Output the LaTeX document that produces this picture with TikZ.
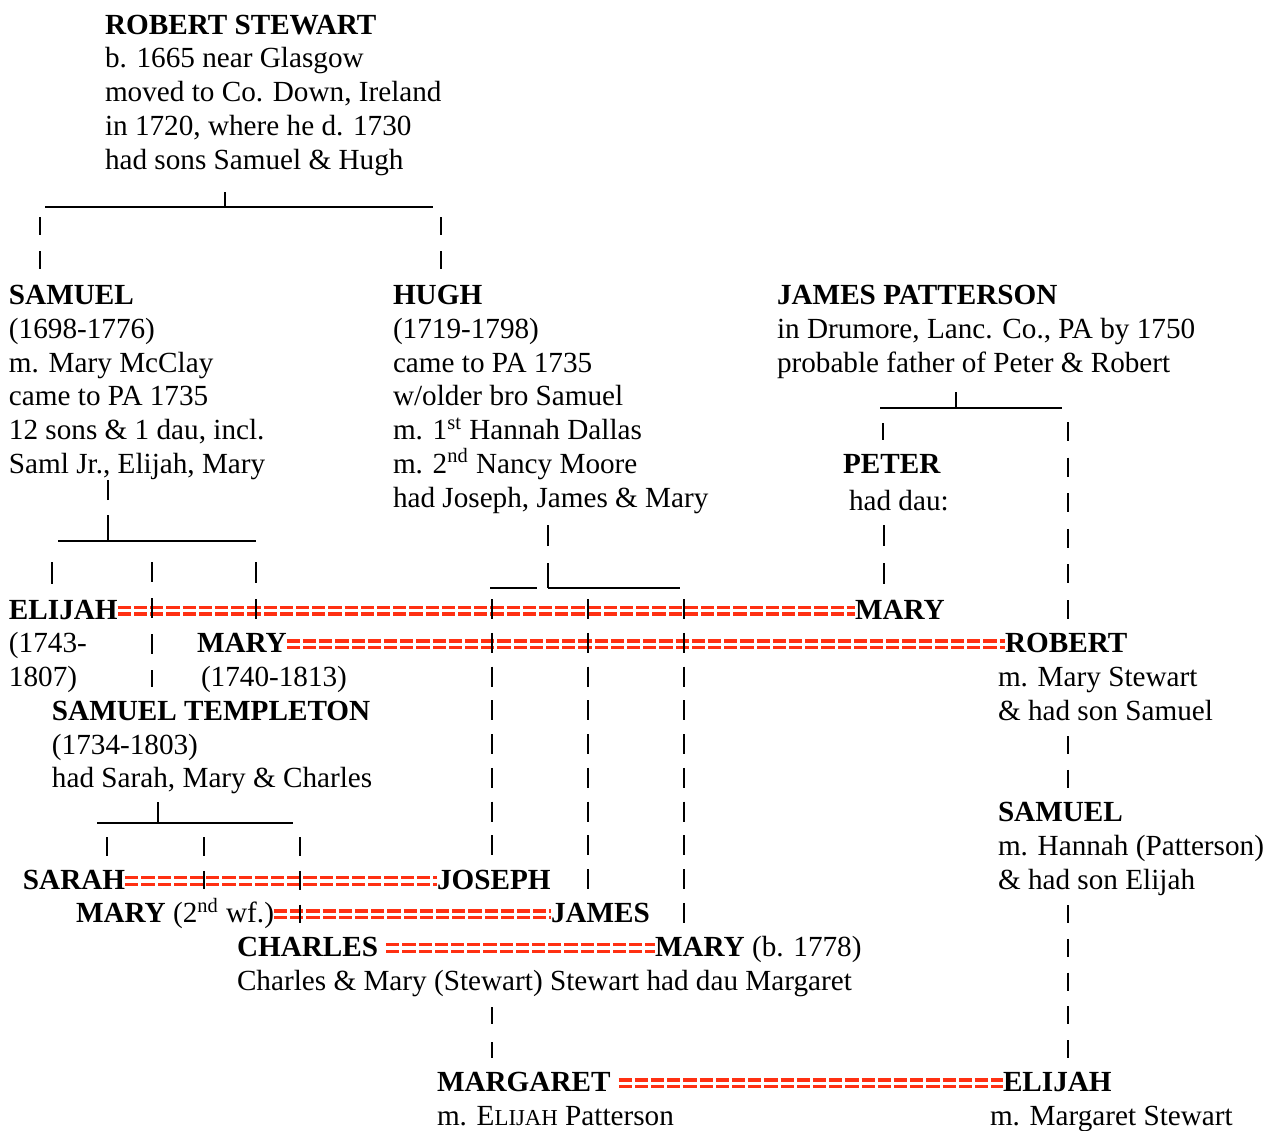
\documentclass[tikz,border=0pt]{standalone}
\usepackage{fontspec}
\setmainfont{Liberation Serif}
\usetikzlibrary{positioning}
\definecolor{wedred}{RGB}{255,48,18}
\newcommand\fakesc[2]{#1{\fontsize{11.4pt}{16.9pt}\selectfont #2}}
\tikzset{%
  every node/.style={inner sep=0pt,outer sep=0pt,
    font=\fontsize{14.6pt}{16.9pt}\selectfont},%
  blk/.style={anchor=north west,yshift=11.83pt,align=left},%
  nm/.style={anchor=base west,font=\fontsize{14.6pt}{16.9pt}\selectfont\bfseries},%
  txt/.style={anchor=base west},%
  pipe/.style={line width=1pt},%
  bold pipe/.style={line width=1.4pt},%
  rule/.style={line width=0.7pt},%
  wed/.style={draw=wedred,double=white,line width=1.6pt,double distance=1.8pt,
    dash pattern=on 6.6pt off 1.5pt}%
}

\begin{document}
\begin{tikzpicture}[x=0.5pt,y=-0.5pt]
\fill[white] (0,0) rectangle (1266,1131);
\useasboundingbox (0,0) rectangle (1266,1131);

% first generation
\node[blk] (rstewart) at (105,34) {\strut\textbf{ROBERT STEWART}\\b. 1665 near Glasgow\\
  moved to Co. Down, Ireland\\in 1720, where he d. 1730\\had sons Samuel \& Hugh};

% second generation
\node[blk] (samuel) at (9,304.4) {\strut\textbf{SAMUEL}\\(1698-1776)\\m. Mary McClay\\
  came to PA 1735\\12 sons \& 1 dau, incl.\\Saml Jr., Elijah, Mary};
\node[blk] (hugh) at (393,304.4) {\strut\textbf{HUGH}\\(1719-1798)\\came to PA 1735\\
  w/older bro Samuel\\m. 1\textsuperscript{st} Hannah Dallas\\
  m. 2\textsuperscript{nd} Nancy Moore\\had Joseph, James \& Mary};
\node[blk] (jpatterson) at (777,304.4) {\strut\textbf{JAMES PATTERSON}\\
  in Drumore, Lanc. Co., PA by 1750\\probable father of Peter \& Robert};
\node[nm] (peter) at (843,473.4) {PETER};
\node[txt] (peterdau) at (849,510) {had dau:};

% third generation
\node[nm] (elijah) at (9,619) {ELIJAH};
\node[blk] (elijahinfo) at (9,652.8) {\strut(1743-\\1807)};
\node[nm] (mary1) at (197,652.8) {MARY};
\node[txt] (mary1info) at (201,686.5) {(1740-1813)};
\node[nm] (mary2) at (855,619) {MARY};
\node[nm] (robert) at (1005,652.8) {ROBERT};
\node[blk] (robertinfo) at (998,686.5) {\strut m. Mary Stewart\\\& had son Samuel};
\node[blk] (templeton) at (52,720.3) {\strut\textbf{SAMUEL TEMPLETON}\\(1734-1803)\\
  had Sarah, Mary \& Charles};
\node[blk] (samuel2) at (998,821.6) {\strut\textbf{SAMUEL}\\m. Hannah (Patterson)\\
  \& had son Elijah};

% fourth generation
\node[nm] (sarah) at (23,889.2) {SARAH};
\node[nm] (joseph) at (437,889.2) {JOSEPH};
\node[txt] (mary3) at (76,922.9) {\textbf{MARY} (2\textsuperscript{nd} wf.)};
\node[nm] (james) at (551,922.9) {JAMES};
\node[nm] (charles) at (237,956.7) {CHARLES};
\node[txt] (mary4) at (655,956.7) {\textbf{MARY} (b. 1778)};
\node[txt] (charlesinfo) at (237,990.5) {Charles \& Mary (Stewart) Stewart had dau Margaret};
\node[nm] (margaret) at (437,1091.9) {MARGARET};
\node[txt] (margaretinfo) at (437,1125.6) {m. \fakesc{E}{LIJAH} Patterson};
\node[nm] (elijah2) at (1003,1091.9) {ELIJAH};
\node[txt] (elijah2info) at (990,1125.6) {m. Margaret Stewart};

% fork points
\coordinate (rs-top) at (225,192);
\coordinate (rs-fork) at (225,207);
\coordinate (rs-l) at (45,207);
\coordinate (rs-r) at (433,207);
\coordinate (sm-top) at (108,480);
\coordinate (sm-fork) at (108,541);
\coordinate (hu-top) at (548,525);
\coordinate (hu-fork) at (548,588);
\coordinate (jp-top) at (956,392);
\coordinate (jp-fork) at (956,408);
\coordinate (st-top) at (158,802);
\coordinate (st-fork) at (158,823);

% marriages
\draw[wed] ([yshift=4.25pt]elijah.base east) -- ([yshift=4.25pt]mary2.base west);
\draw[wed] ([yshift=4.25pt]mary1.base east) -- ([yshift=4.25pt]robert.base west);
\draw[wed] ([yshift=4.25pt]sarah.base east) -- ([yshift=4.25pt]joseph.base west);
\draw[wed] ([yshift=4.25pt]mary3.base east) -- ([yshift=4.25pt]james.base west);
\draw[wed,shorten <=4pt] ([yshift=4.25pt]charles.base east) -- ([yshift=4.25pt]mary4.base west);
\draw[wed,shorten <=4pt] ([yshift=4.25pt]margaret.base east) -- ([yshift=4.25pt]elijah2.base west);

% Robert Stewart to his sons
\draw[pipe] (rs-top) -- (rs-fork);
\draw[rule] (rs-l) -- (rs-r);
\draw[pipe,dash pattern=on 9pt off 8pt] (40,217) -- (40,269);
\draw[pipe,dash pattern=on 9pt off 8pt] (441,217) -- (441,269);

% Samuel's children
\draw[pipe,dash pattern=on 13pt off 7.5pt] (sm-fork) -- (sm-top);
\draw[rule] (58,541) -- (256,541);
\draw[pipe] (52,562) -- (52,584);
\draw[pipe,dash pattern=on 10pt off 8pt] (152,562) -- (152,686.5);
\draw[bold pipe,dash pattern=on 10.5pt off 8pt] (256,562) -- (256,619);

% Hugh's children
\draw[pipe,dash pattern=on 12.5pt off 8.5pt] (hu-fork) -- (hu-top);
\draw[rule] (490,588) -- (537,588) (hu-fork) -- (680,588);
\draw[bold pipe,dash pattern=on 10pt off 6.885pt] (492,599) -- (492,855.4);
\draw[bold pipe,dash pattern=on 10pt off 6.885pt] (588,599) -- (588,889.2);
\draw[bold pipe,dash pattern=on 10pt off 6.885pt] (684,599) -- (684,922.9);

% James Patterson's sons
\draw[pipe] (jp-top) -- (jp-fork);
\draw[rule] (880,408) -- (1062,408);
\draw[pipe] (883,423) -- (883,440);
\draw[bold pipe,dash pattern=on 9.5pt off 8.3pt] (1068,422) -- (1068,619);
\draw[pipe,dash pattern=on 10.5pt off 8.5pt] (884,525) -- (884,584);

% Templeton's children
\draw[pipe] (st-fork) -- (st-top);
\draw[rule] (97,823) -- (293,823);
\draw[pipe] (107,837) -- (107,856);
\draw[pipe,dash pattern=on 9.5pt off 7.385pt] (204,837) -- (204,889.2);
\draw[pipe,dash pattern=on 9.5pt off 7.385pt] (300,837) -- (300,922.9);

% down to Elijah and Margaret
\draw[pipe,dash pattern=on 9pt off 7.885pt] (1068,736) -- (1068,788);
\draw[pipe,dash pattern=on 9pt off 7.885pt] (1068,905) -- (1068,1058);
\draw[pipe,dash pattern=on 8.5pt off 9pt] (492,1007) -- (492,1058);
\end{tikzpicture}
\end{document}
